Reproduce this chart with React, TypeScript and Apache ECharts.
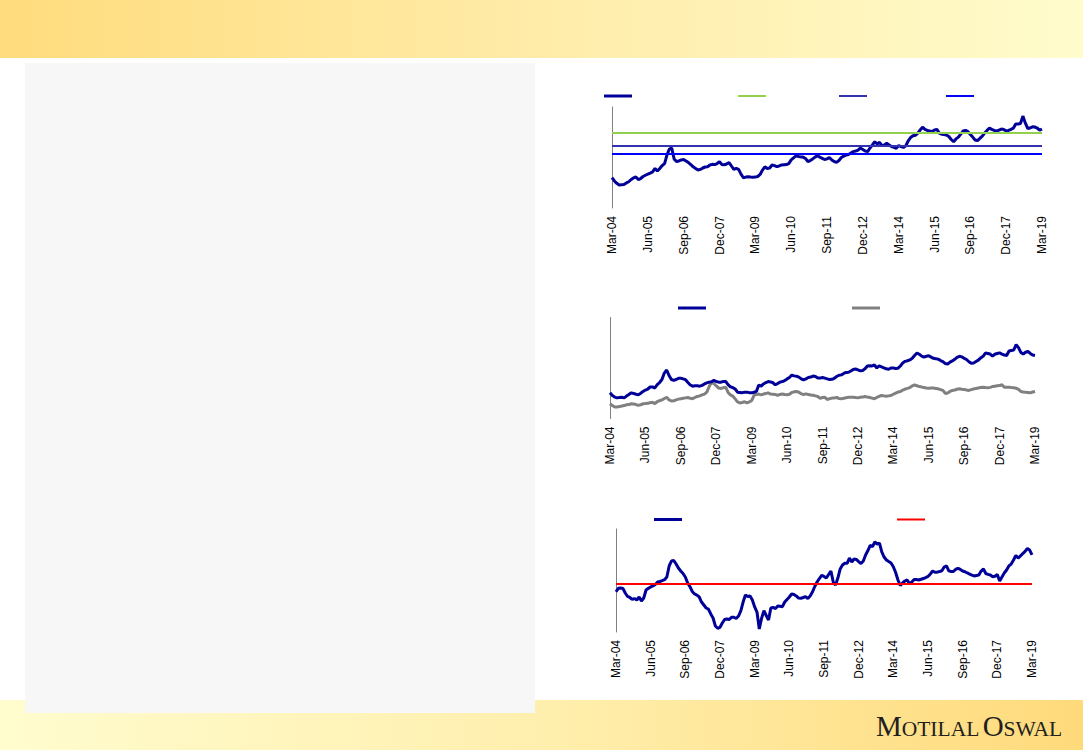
import React, { useEffect, useRef } from 'react';
import * as echarts from 'echarts';

// ---------- categories (monthly, Mar-04 .. Mar-19) ----------
const monthNames = ['Jan', 'Feb', 'Mar', 'Apr', 'May', 'Jun', 'Jul', 'Aug', 'Sep', 'Oct', 'Nov', 'Dec'];
const categories: string[] = [];
for (let k = 0; k <= 180; k++) {
  const m = (2 + k) % 12;
  const y = 4 + Math.floor((2 + k) / 12);
  categories.push(monthNames[m] + '-' + String(y).padStart(2, '0'));
}
const labelEvery = 15; // Mar-04, Jun-05, Sep-06 ...

// ---------- chart 1: P/E with long-term averages ----------
const pe: number[] = [
  15.0, 13.4, 12.2, 11.4, 11.5, 11.6, 12.4, 13.0, 14.1, 14.9,
  15.4, 14.1, 14.6, 15.6, 16.2, 16.8, 17.3, 17.9, 19.6, 18.3,
  19.6, 21.0, 22.0, 26.2, 29.2, 29.7, 24.3, 23.0, 23.3, 23.8,
  24.0, 23.3, 22.5, 21.5, 20.4, 19.6, 18.8, 19.1, 19.8, 20.3,
  20.4, 21.3, 21.6, 21.5, 22.0, 22.9, 21.5, 21.4, 21.8, 22.5,
  20.8, 19.1, 19.6, 19.1, 16.8, 15.0, 15.3, 15.5, 15.3, 15.2,
  15.3, 15.6, 16.6, 18.8, 20.4, 19.6, 19.8, 21.3, 21.0, 20.5,
  20.8, 21.3, 21.4, 21.5, 22.0, 23.8, 24.8, 25.8, 25.5, 25.3,
  25.2, 24.5, 23.0, 23.5, 24.3, 25.2, 25.9, 25.2, 24.6, 24.0,
  24.3, 24.9, 23.8, 23.0, 22.6, 23.5, 25.0, 25.7, 26.2, 26.5,
  27.2, 27.9, 28.2, 28.7, 29.7, 29.0, 28.2, 27.9, 29.7, 31.2,
  32.8, 31.7, 32.5, 30.9, 31.2, 32.0, 31.2, 30.4, 30.0, 29.6,
  30.9, 30.4, 30.0, 30.8, 33.2, 34.9, 35.8, 36.0, 37.1, 38.6,
  40.0, 38.9, 38.4, 38.1, 37.9, 38.6, 38.9, 37.1, 36.5, 36.4,
  36.1, 35.4, 33.9, 32.8, 34.2, 35.1, 36.6, 38.1, 38.4, 37.8,
  36.4, 35.1, 33.7, 33.4, 34.5, 35.6, 37.1, 38.4, 39.5, 38.9,
  38.4, 38.1, 38.6, 39.1, 38.9, 38.1, 38.4, 38.9, 39.5, 41.6,
  41.6, 41.8, 45.5, 42.1, 39.4, 39.6, 40.2, 40.1, 39.6, 38.6,
  39.1,
];
const avg5Yr = 37.5;
const avg10Yr = 30.8;
const avg15Yr = 26.9;

// ---------- chart 2: company P/E vs Sensex P/E ----------
const peCompany: number[] = [
  12.7, 11.4, 10.6, 10.2, 10.4, 10.5, 10.2, 11.1, 11.9, 12.7,
  12.4, 12.0, 11.7, 12.5, 13.4, 14.1, 14.6, 15.6, 15.6, 15.1,
  16.8, 17.8, 19.3, 22.5, 24.0, 21.3, 19.3, 18.9, 19.3, 19.9,
  19.9, 19.6, 19.2, 17.8, 16.6, 16.0, 16.2, 16.2, 16.0, 16.4,
  17.1, 17.6, 18.0, 18.2, 18.9, 18.3, 18.0, 18.0, 18.3, 18.3,
  16.8, 15.7, 15.3, 14.6, 13.0, 12.9, 12.8, 13.0, 13.0, 12.8,
  12.7, 13.0, 13.4, 16.6, 16.0, 17.1, 17.8, 18.3, 18.1, 17.7,
  16.7, 17.3, 18.0, 18.3, 18.8, 19.6, 20.3, 21.5, 21.1, 20.9,
  20.5, 19.6, 19.1, 19.6, 20.3, 20.5, 21.0, 20.8, 20.0, 20.0,
  20.3, 20.0, 19.6, 19.3, 19.4, 19.9, 20.8, 21.4, 21.6, 22.3,
  22.8, 22.9, 23.5, 24.3, 24.5, 24.1, 23.6, 23.8, 24.6, 26.0,
  26.1, 26.0, 26.5, 25.0, 26.1, 25.6, 25.1, 24.6, 24.4, 25.0,
  25.0, 24.8, 24.9, 26.0, 27.5, 28.3, 28.6, 29.0, 29.8, 31.2,
  32.4, 31.8, 30.9, 30.4, 30.8, 31.1, 30.4, 29.8, 29.6, 29.4,
  28.7, 28.2, 27.2, 27.0, 27.9, 28.5, 29.3, 30.3, 30.8, 30.5,
  29.8, 29.2, 28.1, 27.3, 27.5, 28.2, 28.9, 30.0, 30.8, 32.4,
  32.2, 31.9, 30.9, 31.8, 32.2, 32.5, 31.9, 31.4, 31.2, 33.4,
  33.7, 33.9, 36.6, 35.1, 32.7, 31.9, 32.8, 33.2, 32.2, 31.4,
  31.2,
];
const peSensex: number[] = [
  7.3, 6.4, 5.7, 5.7, 5.9, 6.2, 6.4, 6.8, 6.9, 7.3,
  7.2, 6.9, 6.5, 6.8, 7.3, 7.4, 7.6, 7.8, 8.0, 7.4,
  8.3, 8.8, 9.2, 9.9, 10.5, 9.2, 8.7, 8.8, 9.2, 9.6,
  9.8, 10.0, 10.2, 10.4, 10.0, 9.8, 10.4, 10.9, 11.2, 11.7,
  12.1, 13.1, 15.8, 17.8, 17.3, 16.1, 15.1, 14.9, 15.2, 15.5,
  12.9, 11.7, 11.1, 9.7, 8.2, 7.7, 7.9, 8.3, 7.7, 8.2,
  8.9, 11.4, 11.9, 12.1, 11.7, 12.1, 12.4, 12.7, 12.1, 12.0,
  11.9, 11.4, 11.9, 12.1, 11.9, 11.8, 12.0, 12.9, 13.2, 13.4,
  13.0, 12.2, 11.9, 12.2, 11.9, 11.6, 11.5, 11.2, 10.9, 10.0,
  10.4, 10.5, 9.4, 9.8, 10.1, 10.2, 10.4, 9.9, 9.8, 10.0,
  10.3, 10.5, 10.5, 10.5, 10.4, 10.2, 10.5, 10.6, 10.9, 10.6,
  10.4, 10.1, 9.8, 10.4, 10.9, 11.4, 11.2, 11.0, 11.2, 11.4,
  12.0, 12.6, 13.1, 13.4, 14.1, 14.6, 14.9, 15.3, 16.1, 16.6,
  16.2, 15.8, 15.6, 15.3, 15.1, 15.0, 15.1, 15.1, 14.9, 14.7,
  14.3, 13.9, 12.4, 12.6, 13.4, 13.9, 14.1, 14.5, 14.7, 14.5,
  14.4, 14.1, 13.9, 14.3, 14.6, 14.9, 15.1, 15.3, 15.5, 15.3,
  15.2, 15.4, 15.8, 16.0, 16.2, 16.3, 16.7, 15.5, 15.5, 15.5,
  15.3, 15.2, 15.0, 14.4, 13.4, 13.1, 13.0, 12.9, 12.7, 13.1,
  13.4,
];

// ---------- chart 3: premium / discount to Sensex (%) ----------
const premium: number[] = [
  -10.9, -7.6, -7.3, -7.8, -12.1, -15.5, -16.5, -18.4, -17.5, -18.9,
  -16.0, -19.9, -17.0, -9.2, -7.6, -6.3, -5.3, -3.9, -1.5, -1.0,
  -0.2, 0.8, 3.4, 14.1, 18.9, 19.4, 16.0, 12.1, 9.2, 6.8,
  3.4, -2.4, -6.0, -10.7, -13.1, -14.1, -16.0, -20.9, -23.8, -26.7,
  -27.7, -32.5, -36.4, -44.2, -46.4, -45.4, -41.3, -37.9, -37.4, -37.9,
  -35.7, -35.7, -36.9, -34.5, -29.6, -20.9, -14.1, -15.5, -15.0, -18.9,
  -25.7, -30.6, -47.1, -36.7, -29.3, -34.0, -38.3, -26.7, -26.2, -27.2,
  -24.8, -25.0, -25.4, -20.9, -18.4, -16.0, -13.1, -13.6, -15.0, -17.0,
  -17.3, -16.5, -15.7, -17.5, -15.0, -11.2, -5.8, -1.5, 1.9, 4.9,
  3.9, 2.4, 5.8, 9.2, -1.5, -4.4, 2.4, 11.2, 15.0, 16.7,
  16.7, 21.8, 18.0, 20.9, 20.4, 18.4, 16.5, 18.9, 24.8, 29.1,
  34.0, 33.0, 37.4, 35.4, 36.4, 27.7, 22.8, 19.9, 18.4, 17.0,
  13.4, 7.8, 0.5, -4.9, -2.4, -0.5, 0.5, -2.9, -1.5, 1.0,
  1.0, 0.5, 1.2, 1.9, 2.9, 3.9, 6.3, 9.2, 8.0, 8.1,
  8.7, 9.5, 13.1, 14.1, 9.4, 8.7, 8.7, 10.9, 11.7, 10.7,
  9.2, 8.5, 7.3, 6.3, 5.3, 4.4, 4.9, 5.3, 9.2, 11.2,
  6.8, 6.0, 5.3, 3.7, 4.1, 5.8, -0.5, 3.4, 7.3, 10.2,
  14.1, 16.0, 19.9, 24.3, 21.8, 23.8, 26.2, 28.2, 31.1, 29.6,
  24.8,
];
const premiumAvg = -3;

const NAVY = '#000099';
const LABEL_FONT = 'Liberation Sans, Arial, sans-serif';
const SERIF = 'Liberation Serif, DejaVu Serif, serif';

function xAxisFor(gridIndex: number) {
  return {
    type: 'category',
    gridIndex,
    data: categories,
    boundaryGap: false,
    axisLine: { show: false },
    axisTick: { show: false },
    splitLine: { show: false },
    axisLabel: {
      interval: labelEvery - 1,
      rotate: 90,
      margin: 8,
      fontSize: 12,
      fontFamily: LABEL_FONT,
      color: '#000000',
    },
  };
}

function yAxisFor(gridIndex: number, min: number, max: number) {
  return {
    type: 'value',
    gridIndex,
    min,
    max,
    axisLine: { show: true, lineStyle: { color: '#808080', width: 1 } },
    axisTick: { show: false },
    axisLabel: { show: false },
    splitLine: { show: false },
  };
}

function lineSeries(name: string, idx: number, data: number[], color: string) {
  return {
    name,
    type: 'line',
    xAxisIndex: idx,
    yAxisIndex: idx,
    data,
    color,
    showSymbol: false,
    symbol: 'none',
    lineStyle: { color, width: 3 },
    z: 3,
  };
}

function refSeries(name: string, idx: number, value: number, color: string) {
  return {
    name,
    type: 'line',
    xAxisIndex: idx,
    yAxisIndex: idx,
    data: [],
    color,
    showSymbol: false,
    symbol: 'none',
    lineStyle: { color, width: 2 },
    z: 2,
    markLine: {
      silent: true,
      symbol: ['none', 'none'],
      label: { show: false },
      lineStyle: { color, width: 2, type: 'solid' },
      data: [{ yAxis: value }],
    },
  };
}

function legendFor(name: string, left: number, top: number, h: number) {
  return {
    data: [name],
    left,
    top,
    padding: 0,
    icon: 'rect',
    itemWidth: 28,
    itemHeight: h,
    selectedMode: false,
    formatter: () => '',
    textStyle: { fontSize: 1 },
  };
}

export default function App() {
  const ref = useRef<HTMLDivElement>(null);

  useEffect(() => {
    if (!ref.current) return;
    const chart = echarts.init(ref.current, null, { renderer: 'svg' });

    const option = {
      animation: false,
      backgroundColor: '#ffffff',
      graphic: [
        {
          type: 'rect',
          z: -10,
          shape: { x: 0, y: 0, width: 1083, height: 58 },
          style: {
            fill: new echarts.graphic.LinearGradient(0, 0, 1, 0, [
              { offset: 0, color: '#FFDC7D' },
              { offset: 0.5, color: '#FFECA9' },
              { offset: 1, color: '#FFFCCC' },
            ]),
          },
          silent: true,
        },
        {
          type: 'rect',
          z: -10,
          shape: { x: 0, y: 700, width: 1083, height: 50 },
          style: {
            fill: new echarts.graphic.LinearGradient(0, 0, 1, 0, [
              { offset: 0, color: '#FFFCCE' },
              { offset: 0.5, color: '#FFEFAE' },
              { offset: 1, color: '#FFDA7B' },
            ]),
          },
          silent: true,
        },
        {
          type: 'rect',
          z: -9,
          shape: { x: 25, y: 63, width: 510, height: 650 },
          style: { fill: '#F7F7F7' },
          silent: true,
        },
        {
          type: 'text',
          z: 10,
          x: 969,
          y: 740,
          silent: true,
          style: {
            text: '{b|M}{s|OTILAL} {b|O}{s|SWAL}',
            align: 'center',
            verticalAlign: 'bottom',
            rich: {
              b: { fontSize: 29, fontFamily: SERIF, fill: '#231F20', verticalAlign: 'bottom' },
              s: { fontSize: 21.5, fontFamily: SERIF, fill: '#231F20', verticalAlign: 'bottom' },
            },
          },
        },
      ],
      grid: [
        { left: 612, width: 430, top: 107, height: 101 },
        { left: 610, width: 425, top: 317.5, height: 101 },
        { left: 616, width: 416, top: 529, height: 103 },
      ],
      xAxis: [xAxisFor(0), xAxisFor(1), xAxisFor(2)],
      yAxis: [yAxisFor(0, 0, 50), yAxisFor(1, 0, 50), yAxisFor(2, -50, 50)],
      legend: [
        legendFor('P/E (x)', 604, 94.5, 3),
        legendFor('5 Yr Avg (x)', 738, 95, 2),
        legendFor('10 Yr Avg (x)', 839, 95, 2),
        legendFor('15 Yr Avg (x)', 946, 95, 2),
        legendFor('Company P/E (x)', 678, 306.5, 3),
        legendFor('Sensex P/E (x)', 852, 306.5, 3),
        legendFor('Premium to Sensex (%)', 654, 518, 3),
        legendFor('Avg (%)', 897, 518.5, 2),
      ],
      series: [
        refSeries('5 Yr Avg (x)', 0, avg5Yr, '#92D050'),
        refSeries('10 Yr Avg (x)', 0, avg10Yr, '#3333B2'),
        refSeries('15 Yr Avg (x)', 0, avg15Yr, '#0000FF'),
        lineSeries('P/E (x)', 0, pe, NAVY),
        lineSeries('Sensex P/E (x)', 1, peSensex, '#808080'),
        lineSeries('Company P/E (x)', 1, peCompany, NAVY),
        refSeries('Avg (%)', 2, premiumAvg, '#FF0000'),
        lineSeries('Premium to Sensex (%)', 2, premium, NAVY),
      ],
    };

    chart.setOption(option as any);
    return () => {
      chart.dispose();
    };
  }, []);

  return (
    <div
      ref={ref}
      style={{ position: 'fixed', left: 0, top: 0, width: 1083, height: 750 }}
    />
  );
}
